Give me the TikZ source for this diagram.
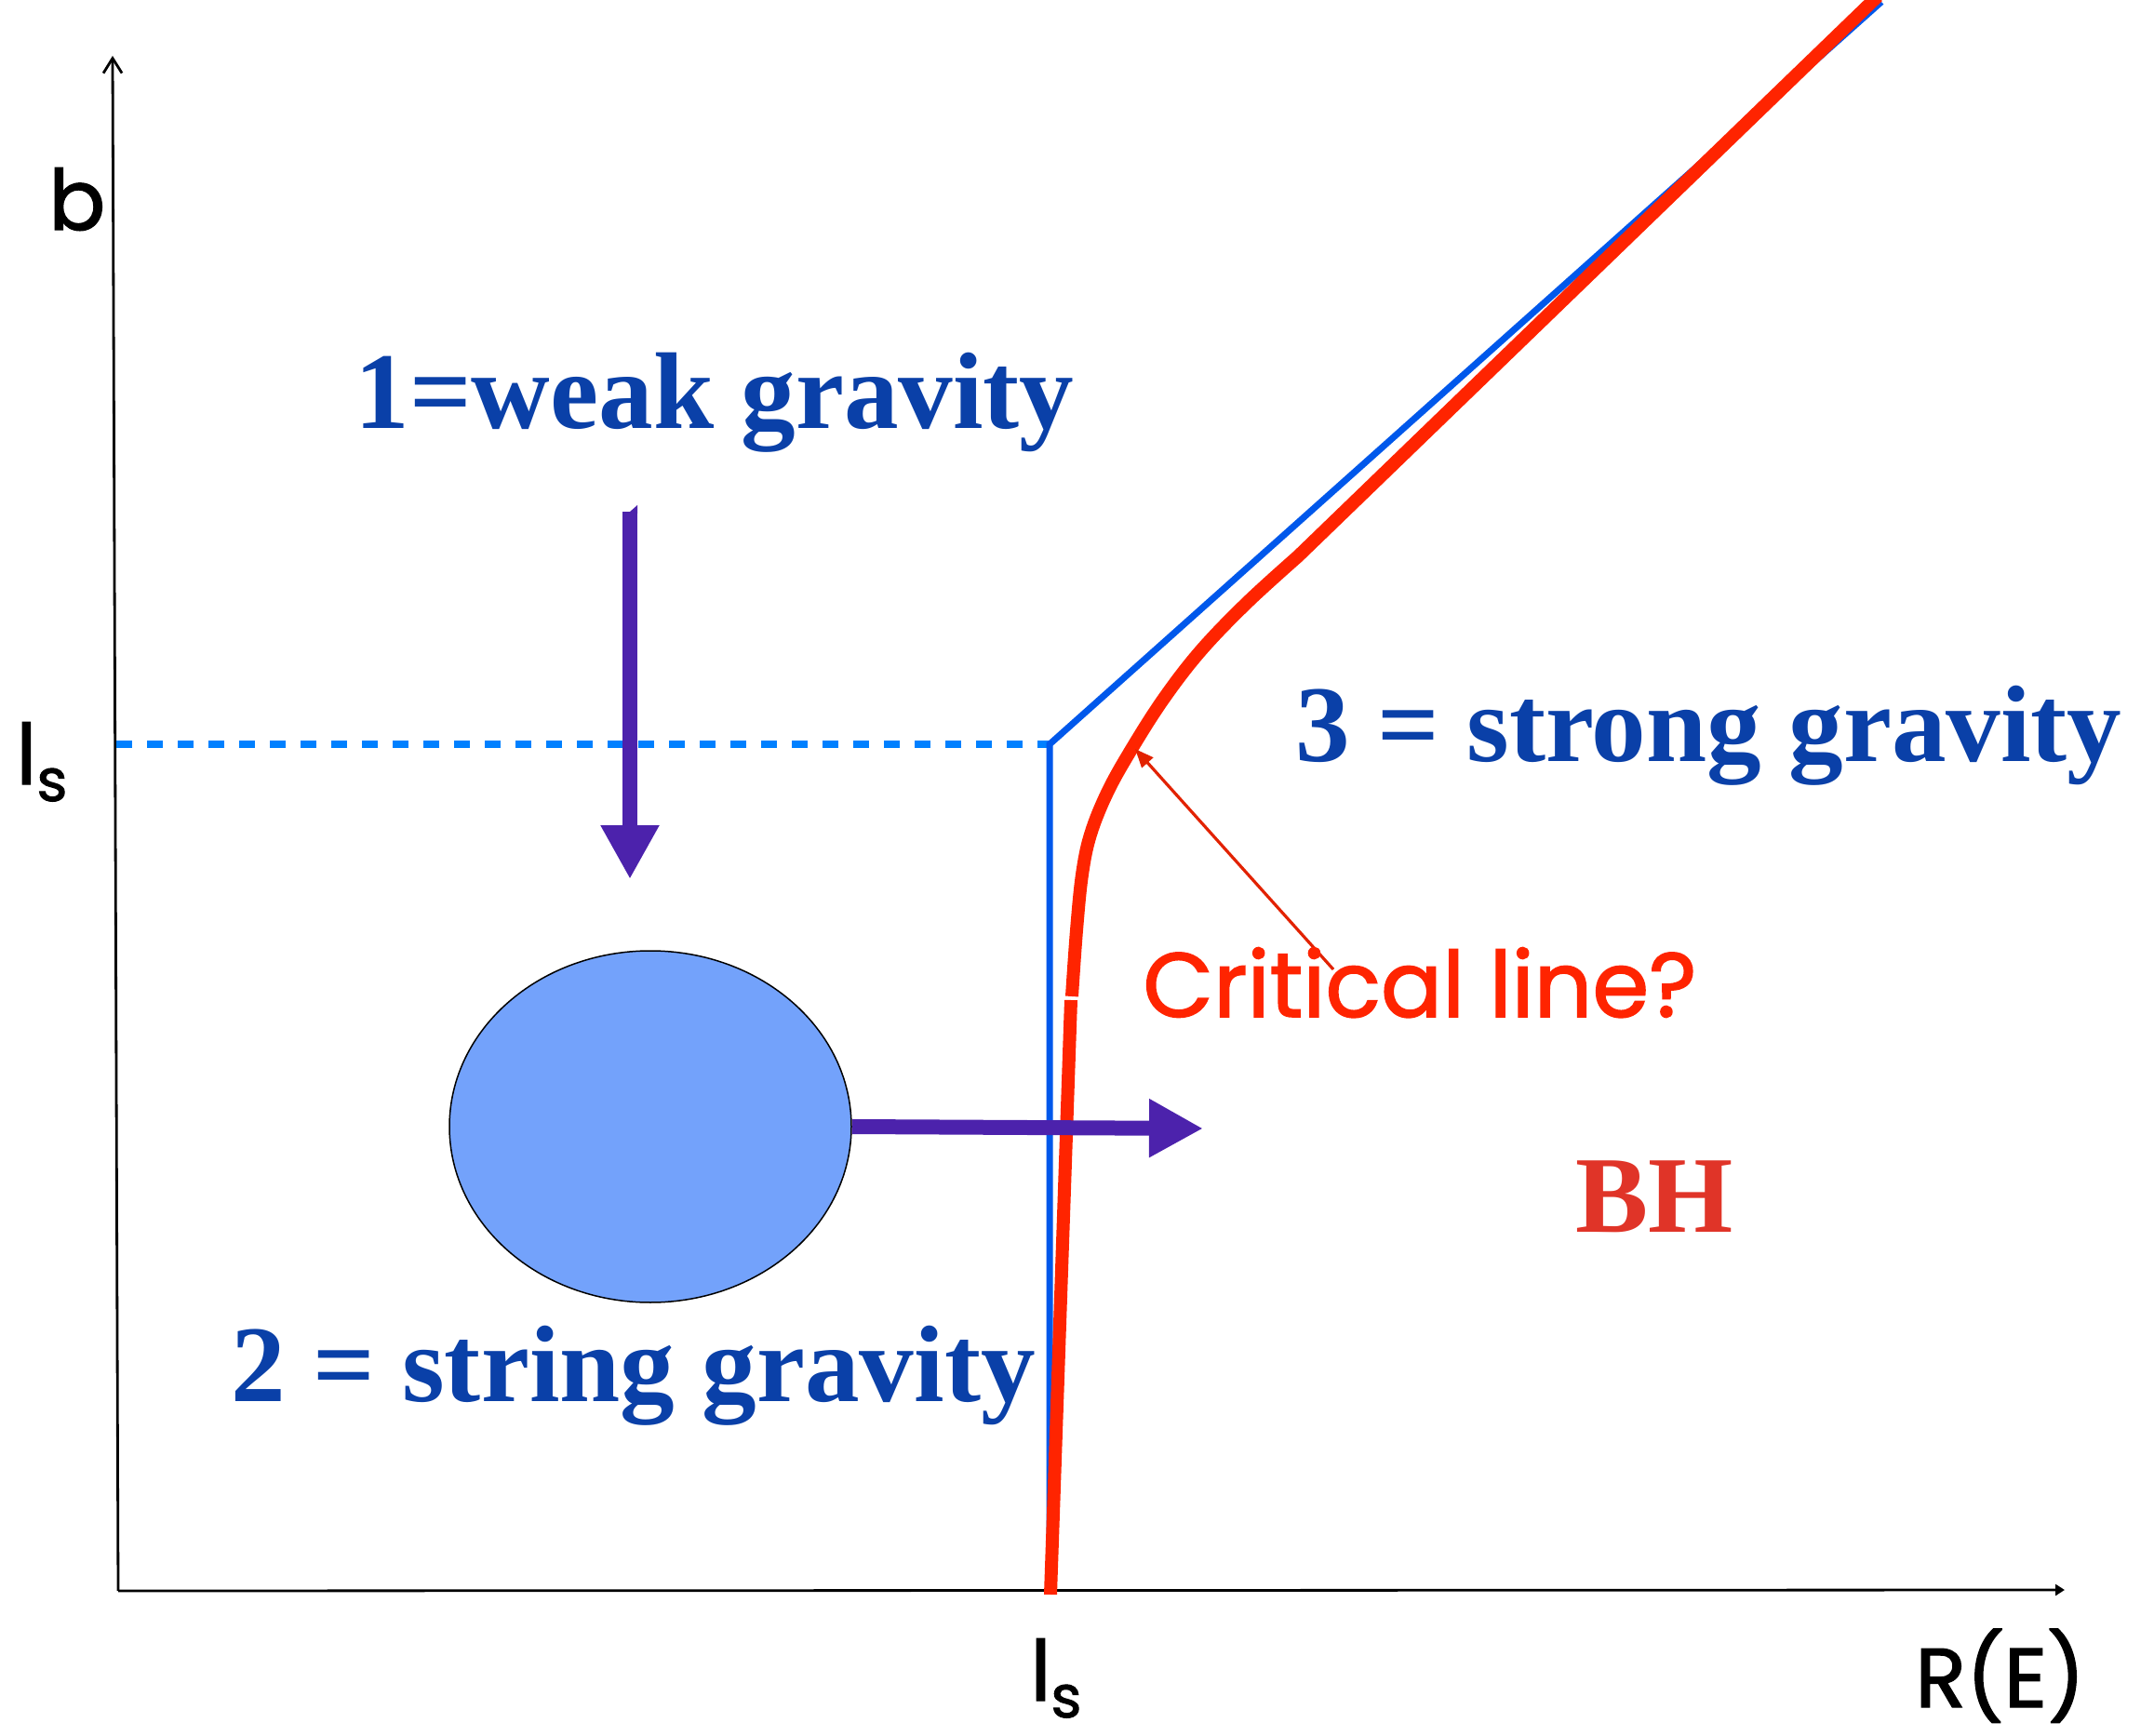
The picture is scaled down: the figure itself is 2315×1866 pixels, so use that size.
\documentclass[tikz,border=0pt]{standalone}
\usepackage{fontspec}
\setmainfont{Liberation Serif}
\newfontfamily\comic{Poppins}[FakeBold=1.6]
\usetikzlibrary{arrows.meta,shapes.geometric}
\definecolor{txtblue}{RGB}{10,64,168}
\definecolor{bhred}{RGB}{224,52,40}
\definecolor{curvered}{RGB}{255,36,0}
\definecolor{annred}{RGB}{226,34,0}
\definecolor{dashbluec}{RGB}{0,128,255}
\definecolor{solidbluec}{RGB}{0,88,235}
\definecolor{arrowpurple}{RGB}{76,34,172}
\definecolor{blobfill}{RGB}{115,162,251}
\tikzset{
  axis/.style={draw=black, line width=1.4pt},
  dashblue/.style={draw=dashbluec, line width=3.8pt, dash pattern=on 8.5pt off 8pt},
  solidblue/.style={draw=solidbluec, line width=3.5pt, line join=miter},
  redline/.style={draw=curvered, line width=7pt},
  annot/.style={draw=annred, line width=1.6pt, -{Triangle[length=10pt,width=8pt]}},
  purplearrow/.style={draw=arrowpurple, line width=8pt, -{Triangle[length=29pt,width=29.5pt]}},
  blob/.style={ellipse, draw=black, line width=0.75pt, fill=blobfill, minimum width=216pt, minimum height=189pt, inner sep=0pt},
  bigtxt/.style={font=\fontsize{58.6}{62}\selectfont\bfseries, inner sep=0pt, anchor=base west},
  comictxt/.style={font=\comic\fontsize{45}{50}\selectfont, inner sep=0pt, anchor=base west},
}
\begin{document}
\begin{tikzpicture}[x=0.5pt,y=-0.5pt]
\useasboundingbox (0,0) rectangle (2315,1866);
% axes
\coordinate (O) at (127,1710);
\coordinate (Ytop) at (121,60);
\coordinate (Xend) at (2219,1709);
\draw[axis,-{Straight Barb[length=8pt,width=10pt]}] (O) -- (Ytop);
\draw[axis,-{Triangle[length=5pt,width=6pt]}] (O) -- (Xend);
% blue lines
\coordinate (dL) at (125,800);
\coordinate (K) at (1128,800);
\coordinate (Kb) at (1128,1710);
\coordinate (Btop) at (2022,2);
\draw[dashblue] (dL) -- (K);
\draw[solidblue] (Kb) -- (K) -- (Btop);
% red critical curve
\draw[redline] (1129,1714) -- (1151,1075);
\draw[redline] plot[smooth, tension=0.6] coordinates {(1152,1071) (1157,1000) (1163,940) (1172,897) (1190,852) (1215,807) (1250,752) (1290,700) (1340,648) (1395,598)} -- (2018,-4);
% blob and arrows
\node[blob] (blob) at (699,1211) {};
\coordinate (rEnd) at (1293,1213);
\draw[purplearrow] (blob.east) -- (rEnd);
\coordinate (dTop) at (677,550);
\coordinate (dEnd) at (677,945);
\draw[purplearrow] (dTop) -- (dEnd);
\fill[arrowpurple] (669,557) -- (685,543) -- (685,552) -- (669,552) -- cycle;
% annotation
\coordinate (annS) at (1433,1042);
\coordinate (annT) at (1220,805);
\draw[annot] (annS) -- (annT);
% texts
\node[bigtxt, text=txtblue] (t1) at (381,461) {1=weak gravity};
\node[bigtxt, text=txtblue] (t3) at (1392,819) {3 = strong gravity};
\node[bigtxt, text=txtblue] (t2) at (248,1506) {2 = string gravity};
\node[bigtxt, text=bhred] (bh) at (1693,1324) {BH};
\node[comictxt, text=curvered, font=\comic\fontsize{49}{54}\selectfont] (crit) at (1228,1093) {Critical line?};
\node[comictxt] (lb) at (52,247) {b};
\node[comictxt] (lsl) at (17,843) {l\textsubscript{s}};
\node[comictxt] (lsb) at (1107,1828) {l\textsubscript{s}};
\node[comictxt] (re) at (2058,1835) {R(E)};
\end{tikzpicture}
\end{document}
